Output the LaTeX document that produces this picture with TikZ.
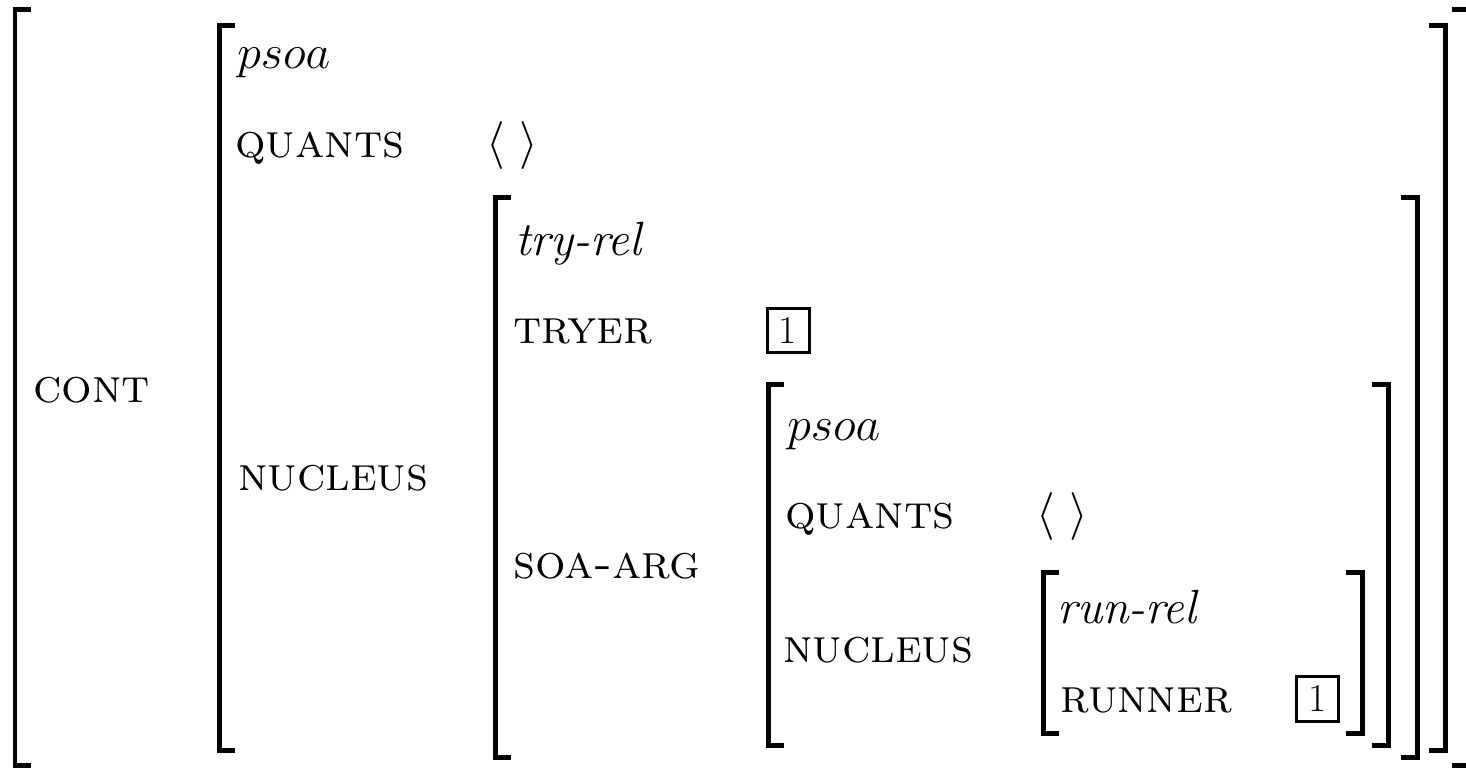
\RequirePackage{fix-cm}
\documentclass[tikz,border=0pt]{standalone}
\tikzset{
  lbl/.style={anchor=base west, inner sep=0pt, font=\fontsize{27.3}{32}\selectfont},
  val/.style={anchor=base, inner sep=0pt, font=\fontsize{27.3}{32}\selectfont},
  tagbox/.style={draw, line width=0.06cm, minimum width=0.84cm, minimum height=0.9cm, inner sep=0pt, font=\fontsize{22.5}{26}\selectfont},
  brk/.style={line width=0.1cm, line cap=butt, line join=miter}
}
\begin{document}
\begin{tikzpicture}[x=0.02cm,y=-0.02cm]
\useasboundingbox (0,0) rectangle (1466,767);
\def\lbrk#1#2#3{\draw[brk] (#1+16,#2) -- (#1,#2) -- (#1,#3) -- (#1+16,#3);}
\def\rbrk#1#2#3{\draw[brk] (#1-16,#2) -- (#1,#2) -- (#1,#3) -- (#1-16,#3);}
% outer matrix
\lbrk{15}{10}{765}
\rbrk{1468}{10}{765}
\node[lbl] (cont) at (33,402) {\textsc{cont}};
% psoa matrix
\lbrk{219}{26}{750}
\rbrk{1445}{26}{750}
\node[lbl] (psoa1) at (237,69) {$psoa$};
\node[lbl] (quants1) at (235,157) {\textsc{quants}};
\node[val] (list1) at (512,157) {$\langle\ \rangle$};
\node[lbl] (nucleus1) at (238,490) {\textsc{nucleus}};
% try-rel matrix
\lbrk{495}{197}{757}
\rbrk{1417}{197}{757}
\node[lbl] (tryrel) at (515,255) {\textit{try-rel}};
\node[lbl] (tryer) at (513,343) {\textsc{tryer}};
\node[tagbox] (tag1) at (788,330.5) {1};
\node[lbl] (soaarg) at (513,578) {\textsc{soa-arg}};
% inner psoa matrix
\lbrk{768}{384}{745}
\rbrk{1388}{384}{745}
\node[lbl] (psoa2) at (787,440) {$psoa$};
\node[lbl] (quants2) at (785,528) {\textsc{quants}};
\node[val] (list2) at (1062,528) {$\langle\ \rangle$};
\node[lbl] (nucleus2) at (783,662) {\textsc{nucleus}};
% run-rel matrix
\lbrk{1043}{572}{733}
\rbrk{1362}{572}{733}
\node[lbl] (runrel) at (1057,623) {\textit{run-rel}};
\node[lbl] (runner) at (1060,712) {\textsc{runner}};
\node[tagbox] (tag2) at (1317.5,698.5) {1};
\end{tikzpicture}
\end{document}
